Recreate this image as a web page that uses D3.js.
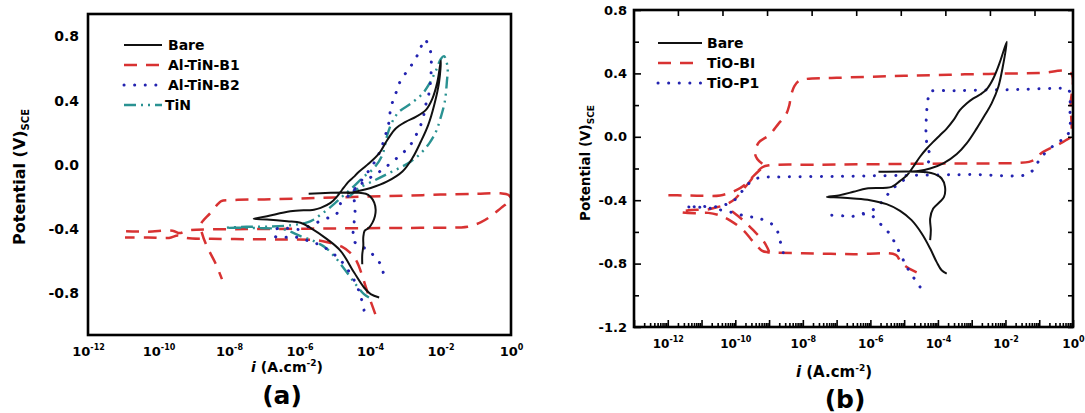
<!DOCTYPE html>
<html><head><meta charset="utf-8">
<script src="https://cdn.jsdelivr.net/npm/d3@7"></script>
<style>
body{margin:0;background:#fff}
svg{display:block}
text{font-family:"DejaVu Sans",sans-serif;font-weight:bold;fill:#000}
</style>
</head><body>
<svg id="c" width="1085" height="413"></svg>
<script>
// ---------- DATA (current as log10(i / A.cm^-2), potential in V vs SCE) ----------
// Panel (a)
const xTickExpA = [-12,-10,-8,-6,-4,-2,0];
const yTicksA = [0.8,0.4,0.0,-0.4,-0.8];
const legendA = ["Bare","Al-TiN-B1","Al-TiN-B2","TiN"];

const bareA = [
[-3.74,-0.826],[-3.98,-0.805],[-4.17,-0.764],[-4.45,-0.671],[-4.83,-0.537],[-5.21,-0.464],[-5.69,-0.392],[-5.97,-0.361],[-6.35,-0.351],[-6.92,-0.340],[-7.30,-0.336],
[-6.92,-0.320],[-6.26,-0.289],[-5.59,-0.279],[-5.40,-0.268],[-5.12,-0.237],[-4.93,-0.196],[-4.79,-0.155],[-4.60,-0.103],[-4.46,-0.075],[-4.36,-0.052],[-4.08,0.000],[-3.74,0.072],[-3.51,0.155],[-3.27,0.227],[-2.99,0.268],[-2.70,0.299],[-2.42,0.341],[-2.23,0.413],[-2.09,0.516],[-1.99,0.650],
[-2.04,0.516],[-2.18,0.372],[-2.35,0.248],[-2.56,0.144],[-2.80,0.041],[-3.08,-0.041],[-3.51,-0.103],[-3.98,-0.144],[-4.36,-0.165],[-4.65,-0.178],
null,
[-5.74,-0.180],[-4.12,-0.180],[-3.98,-0.200],[-3.88,-0.235],[-3.84,-0.279],[-3.86,-0.320],[-3.93,-0.360],[-4.03,-0.392],[-4.15,-0.410],[-4.19,-0.450],[-4.19,-0.506],[-4.22,-0.560],[-4.22,-0.619]
];
const alTiNB1 = [
[-3.85,-0.930],[-3.98,-0.850],[-4.12,-0.760],[-4.22,-0.690],[-4.38,-0.600],[-4.55,-0.550],[-4.80,-0.510],[-5.21,-0.482],[-5.60,-0.468],[-6.50,-0.465],[-7.50,-0.463],[-8.50,-0.461],[-9.20,-0.456],[-9.45,-0.440],[-9.70,-0.455],[-10.30,-0.452],[-10.95,-0.452],
null,
[-10.92,-0.414],[-10.30,-0.416],[-9.60,-0.410],[-9.40,-0.425],[-9.20,-0.410],[-8.50,-0.402],[-7.00,-0.400],[-5.00,-0.396],[-3.00,-0.393],[-1.50,-0.390],[-1.23,-0.386],[-0.85,-0.357],[-0.57,-0.320],[-0.28,-0.268],[-0.10,-0.237],[0.00,-0.212],[-0.08,-0.186],[-0.30,-0.177],[-1.00,-0.180],[-2.00,-0.185],[-3.00,-0.192],[-4.00,-0.197],[-5.00,-0.203],[-6.00,-0.210],[-7.00,-0.215],[-8.00,-0.220],[-8.22,-0.226],[-8.32,-0.245],[-8.53,-0.300],[-8.80,-0.371],[-8.76,-0.430],[-8.63,-0.506],[-8.39,-0.610],[-8.20,-0.712]
];
const alTiNB2 = [
[-4.17,-0.905],[-4.25,-0.830],[-4.40,-0.740],[-4.64,-0.650],[-4.90,-0.580],[-5.36,-0.506],[-5.73,-0.475],[-6.16,-0.448],[-6.59,-0.454],[-6.72,-0.440],[-6.72,-0.410],[-6.54,-0.392],[-6.20,-0.400],[-5.97,-0.402],[-5.73,-0.382],[-5.31,-0.340],[-5.07,-0.320],[-4.88,-0.289],[-4.83,-0.237],[-4.60,-0.190],[-4.41,-0.144],[-4.12,-0.062],[-3.89,0.010],[-3.70,0.093],[-3.56,0.186],[-3.46,0.268],[-3.41,0.355],[-3.27,0.444],[-3.13,0.526],[-2.86,0.609],[-2.61,0.702],[-2.45,0.780],
[-2.29,0.712],[-2.26,0.623],[-2.32,0.454],[-2.42,0.372],[-2.51,0.279],[-2.67,0.196],[-2.89,0.114],[-3.30,0.031],[-3.72,-0.041],[-4.08,-0.093],[-4.46,-0.165],[-4.42,-0.260],[-4.45,-0.360],[-4.45,-0.475],[-4.03,-0.536],[-3.70,-0.620],[-3.60,-0.700]
];
const tiN = [
[-4.03,-0.826],[-4.17,-0.805],[-4.41,-0.743],[-4.69,-0.660],[-4.98,-0.578],[-5.26,-0.516],[-5.59,-0.475],[-5.97,-0.444],[-6.45,-0.402],[-7.00,-0.395],[-7.60,-0.392],[-8.10,-0.392],
[-7.50,-0.386],[-6.80,-0.384],[-6.20,-0.375],[-5.80,-0.360],[-5.59,-0.340],[-5.40,-0.310],[-5.21,-0.279],[-5.00,-0.240],[-4.83,-0.206],[-4.65,-0.170],[-4.46,-0.134],[-4.17,-0.072],[-3.89,-0.021],[-3.65,0.062],[-3.51,0.186],[-3.37,0.268],[-3.18,0.330],[-2.84,0.382],[-2.51,0.444],[-2.29,0.516],[-2.13,0.588],[-1.99,0.660],[-1.90,0.677],
[-1.80,0.609],[-1.82,0.516],[-1.88,0.392],[-1.99,0.299],[-2.13,0.206],[-2.32,0.134],[-2.56,0.072],[-2.84,0.021],[-3.18,-0.021],[-3.56,-0.062],[-3.93,-0.103],[-4.31,-0.144],[-4.50,-0.180],[-4.60,-0.200]
];

// Panel (b)
const xTickExpB = [-12,-10,-8,-6,-4,-2,0];
const xMajorExpB = [-13,-12,-11,-10,-9,-8,-7,-6,-5,-4,-3,-2,-1,0];
const xTopExpB = [-11.70,-10.38,-9.06,-7.74,-6.42,-5.10,-3.78,-2.46,-1.14];
const yTicksB = [0.8,0.4,0.0,-0.4,-0.8,-1.2];
const yMinorB = [0.6,0.2,-0.2,-0.6,-1.0];
const legendB = ["Bare","TiO-BI","TiO-P1"];

const bareB = [
[-3.74,-0.863],[-3.89,-0.842],[-4.04,-0.789],[-4.23,-0.705],[-4.48,-0.610],[-4.78,-0.526],[-5.12,-0.467],[-5.52,-0.425],[-6.01,-0.400],[-6.50,-0.389],[-6.90,-0.383],[-7.29,-0.379],
[-6.90,-0.368],[-6.50,-0.347],[-6.11,-0.326],[-5.37,-0.316],[-5.12,-0.278],[-4.91,-0.242],[-4.73,-0.189],[-4.53,-0.126],[-4.33,-0.074],[-4.14,-0.032],[-3.94,0.010],[-3.74,0.052],[-3.54,0.105],[-3.35,0.168],[-3.15,0.210],[-2.95,0.242],[-2.75,0.267],[-2.56,0.299],[-2.36,0.368],[-2.16,0.474],[-1.96,0.600],
[-2.08,0.442],[-2.21,0.316],[-2.41,0.211],[-2.61,0.137],[-2.85,0.053],[-3.15,-0.042],[-3.44,-0.109],[-3.84,-0.168],[-4.23,-0.200],[-4.63,-0.217],[-4.83,-0.221],
null,
[-5.76,-0.221],[-4.33,-0.223],[-4.09,-0.236],[-3.89,-0.263],[-3.79,-0.316],[-3.82,-0.379],[-3.94,-0.410],[-4.14,-0.453],[-4.23,-0.516],[-4.21,-0.589],[-4.23,-0.652]
];
const tioBI = [
[-4.63,-0.855],[-4.90,-0.825],[-5.10,-0.790],[-5.25,-0.745],[-6.50,-0.741],[-8.00,-0.735],[-9.05,-0.728],[-9.20,-0.720],[-9.35,-0.690],[-9.52,-0.650],[-9.76,-0.590],[-10.16,-0.527],[-10.45,-0.497],[-10.80,-0.480],[-11.20,-0.482],[-11.64,-0.474],
[-11.30,-0.462],[-10.85,-0.459],[-10.55,-0.445],[-10.25,-0.425],[-10.00,-0.390],[-9.80,-0.340],[-9.60,-0.290],[-9.40,-0.235],[-9.20,-0.192],[-9.00,-0.180],[-7.50,-0.176],[-5.50,-0.172],[-3.50,-0.168],[-1.60,-0.165],[-1.30,-0.158],[-1.10,-0.140],[-0.95,-0.105],[-0.70,-0.075],[-0.40,-0.045],[-0.20,-0.020],[-0.07,0.000],[-0.07,0.200],[-0.07,0.404],[-1.00,0.402],[-2.50,0.397],[-4.00,0.390],[-5.50,0.382],[-7.00,0.372],[-7.90,0.365],[-8.10,0.355],[-8.25,0.320],[-8.35,0.260],[-8.40,0.200],[-8.50,0.140],[-8.73,0.080],[-9.00,0.010],[-9.30,-0.035],[-9.42,-0.100],[-9.35,-0.140],[-9.20,-0.170],
null,
[-9.25,-0.205],[-9.45,-0.245],[-9.70,-0.300],[-10.00,-0.340],[-10.45,-0.370],[-11.00,-0.372],[-11.50,-0.370],[-12.03,-0.368],
null,
[-10.10,-0.470],[-9.75,-0.530],[-9.42,-0.600],[-9.17,-0.657],[-9.05,-0.700],[-9.00,-0.725]
];
const tioP1 = [
[-8.58,-0.731],[-8.68,-0.653],[-8.82,-0.569],[-9.27,-0.516],[-9.70,-0.500],[-10.16,-0.474],[-10.60,-0.455],[-11.00,-0.445],[-11.45,-0.442],
[-11.00,-0.440],[-10.50,-0.440],[-10.20,-0.420],[-9.97,-0.390],[-9.75,-0.330],[-9.55,-0.285],[-9.32,-0.260],[-8.50,-0.253],[-7.00,-0.250],[-5.50,-0.245],[-4.43,-0.242],[-3.00,-0.238],[-1.32,-0.234],[-1.10,-0.179],[-0.93,-0.126],[-0.68,-0.074],[-0.43,-0.032],[-0.19,0.000],[-0.09,0.063],[-0.09,0.168],[-0.09,0.253],[-0.14,0.299],[-0.58,0.305],[-1.57,0.299],[-2.56,0.295],[-3.54,0.290],[-4.23,0.284],[-4.28,0.253],[-4.33,0.168],[-4.35,0.084],[-4.35,0.000],[-4.31,-0.063],[-4.23,-0.126],[-4.35,-0.189],[-4.43,-0.232],
null,
[-4.53,-0.947],[-4.83,-0.853],[-4.95,-0.810],[-5.07,-0.758],[-5.22,-0.695],[-5.37,-0.631],[-5.52,-0.589],[-5.77,-0.537],[-6.01,-0.490],[-6.30,-0.490],[-6.60,-0.505],[-6.85,-0.498],[-7.15,-0.495],
null,
[-6.21,-0.484],[-5.86,-0.453],[-5.62,-0.400],[-5.42,-0.347],[-5.22,-0.305],[-5.02,-0.274],[-4.83,-0.236]
];

// ---------- STYLES ----------
const ST = {
  black:{stroke:"#111111", w:2.0, dash:null, cap:"butt"},
  red:  {stroke:"#d83232", w:2.5, dash:"13,9", cap:"butt"},
  blue: {stroke:"#2323b0", w:3.0, dash:"0.1,10.5", cap:"round"},
  teal: {stroke:"#2a9292", w:2.4, dash:"12,5,2,5,2,5", cap:"butt"}
};
const p10 = e => Math.pow(10, e);
const svg = d3.select("#c");

function drawSeries(g, data, x, y, st, clipId) {
  const line = d3.line().defined(d => d !== null)
    .x(d => x(p10(d[0]))).y(d => y(d[1]))
    .curve(d3.curveCatmullRom.alpha(0.5));
  g.append("path").attr("d", line(data)).attr("fill","none")
    .attr("stroke", st.stroke).attr("stroke-width", st.w)
    .attr("stroke-dasharray", st.dash).attr("stroke-linecap", st.cap)
    .attr("stroke-linejoin","round").attr("clip-path", `url(#${clipId})`);
}
function legend(g, items, styles, x1, x2, xt, ys, fs) {
  items.forEach((name, i) => {
    const st = styles[i];
    g.append("line").attr("x1", x1).attr("x2", x2).attr("y1", ys[i]).attr("y2", ys[i])
      .attr("stroke", st.stroke).attr("stroke-width", st.w)
      .attr("stroke-dasharray", st.dash).attr("stroke-linecap", st.cap);
    g.append("text").attr("x", xt[i]).attr("y", ys[i] + 5).style("font-size", fs + "px").text(name);
  });
}
function expLabel(sel, e, base, sup, rise) {
  const t = sel.append("text").attr("text-anchor","middle").style("font-size", base + "px");
  t.append("tspan").text("10");
  t.append("tspan").attr("dy", -rise).style("font-size", sup + "px").text(String(e));
  return t;
}

// ---------- PANEL (a) ----------
const xA = d3.scaleLog().domain([1e-12, 1]).range([88, 511]);
const yA = d3.scaleLinear().domain([-1.06, 0.94]).range([335, 14]);
const gA = svg.append("g");
gA.append("clipPath").attr("id","clipA").append("rect")
  .attr("x", 88).attr("y", 14).attr("width", 423).attr("height", 321);

drawSeries(gA, alTiNB1, xA, yA, ST.red, "clipA");
drawSeries(gA, tiN, xA, yA, ST.teal, "clipA");
drawSeries(gA, alTiNB2, xA, yA, ST.blue, "clipA");
drawSeries(gA, bareA, xA, yA, ST.black, "clipA");

gA.append("rect").attr("x", 88).attr("y", 14).attr("width", 423).attr("height", 321)
  .attr("fill","none").attr("stroke","#000").attr("stroke-width", 2.6);

const axA = gA.append("g").attr("transform","translate(0,335)")
  .call(d3.axisBottom(xA).tickValues(xTickExpA.map(p10)).tickSize(0).tickFormat(""));
axA.select(".domain").remove();
axA.selectAll(".tick").each(function(d) {
  expLabel(d3.select(this), Math.round(Math.log10(d)), 13, 8, 6.5).attr("y", 21);
});
const ayA = gA.append("g").attr("transform","translate(88,0)")
  .call(d3.axisLeft(yA).tickValues(yTicksA).tickSize(0).tickPadding(9).tickFormat(d => d.toFixed(1)));
ayA.select(".domain").remove();
ayA.selectAll("text").style("font-size","14px");

legend(gA, legendA, [ST.black, ST.red, ST.blue, ST.teal], 124, 162, [168,168,168,165], [45,65,85,105], 14);

const tA = gA.append("text").attr("text-anchor","middle").attr("x", 287).attr("y", 372).style("font-size","14px");
tA.append("tspan").style("font-style","italic").text("i");
tA.append("tspan").text(" (A.cm");
tA.append("tspan").attr("dy",-6).style("font-size","9px").text("-2");
tA.append("tspan").attr("dy",6).text(")");

const yTitA = gA.append("text").attr("text-anchor","middle")
  .attr("transform","translate(25,177) rotate(-90)").style("font-size","16px");
yTitA.append("tspan").text("Potential (V)");
yTitA.append("tspan").attr("dy",4).style("font-size","10px").text("SCE");

gA.append("text").attr("text-anchor","middle").attr("x", 282).attr("y", 404)
  .style("font-size","25px").text("(a)");

// ---------- PANEL (b) ----------
const xB = d3.scaleLog().domain([1e-13, 1]).range([634, 1073]);
const yB = d3.scaleLinear().domain([-1.2, 0.8]).range([327, 10]);
const gB = svg.append("g");
gB.append("clipPath").attr("id","clipB").append("rect")
  .attr("x", 634).attr("y", 10).attr("width", 439).attr("height", 317);

drawSeries(gB, tioBI, xB, yB, ST.red, "clipB");
drawSeries(gB, tioP1, xB, yB, ST.blue, "clipB");
drawSeries(gB, bareB, xB, yB, ST.black, "clipB");

function tickAxis(g) { g.select(".domain").remove(); g.selectAll("line").attr("stroke","#000").attr("stroke-width",1.6); return g; }
// bottom major + minor (inward)
tickAxis(gB.append("g").attr("transform","translate(0,327)")
  .call(d3.axisBottom(xB).tickValues(xMajorExpB.map(p10)).tickSize(-7).tickFormat("")));
const minorB = xB.ticks(20).filter(v => Math.abs(Math.log10(v) - Math.round(Math.log10(v))) > 1e-6);
tickAxis(gB.append("g").attr("transform","translate(0,327)")
  .call(d3.axisBottom(xB).tickValues(minorB).tickSize(-4).tickFormat("")));
// top
tickAxis(gB.append("g").attr("transform","translate(0,10)")
  .call(d3.axisTop(xB).tickValues(xTopExpB.map(p10)).tickSize(-6).tickFormat("")));
// left
const ayB = tickAxis(gB.append("g").attr("transform","translate(634,0)")
  .call(d3.axisLeft(yB).tickValues(yTicksB).tickSize(-7).tickPadding(7).tickFormat(d => d.toFixed(1))));
ayB.selectAll("text").style("font-size","13px");
tickAxis(gB.append("g").attr("transform","translate(634,0)")
  .call(d3.axisLeft(yB).tickValues(yMinorB).tickSize(-5).tickFormat("")));
// right
tickAxis(gB.append("g").attr("transform","translate(1073,0)")
  .call(d3.axisRight(yB).tickValues(yTicksB.concat(yMinorB)).tickSize(-5).tickFormat("")));

gB.append("rect").attr("x", 634).attr("y", 10).attr("width", 439).attr("height", 317)
  .attr("fill","none").attr("stroke","#000").attr("stroke-width", 2.6);

const lbB = gB.append("g").attr("transform","translate(0,327)")
  .call(d3.axisBottom(xB).tickValues(xTickExpB.map(p10)).tickSize(0).tickFormat(""));
lbB.select(".domain").remove();
lbB.selectAll(".tick").each(function(d) {
  expLabel(d3.select(this), Math.round(Math.log10(d)), 12, 8, 6).attr("y", 21);
});

legend(gB, legendB, [ST.black, ST.red, ST.blue], 658, 702, [707,707,707], [43,63,83], 14);

const tB = gB.append("text").attr("text-anchor","middle").attr("x", 834).attr("y", 377).style("font-size","15px");
tB.append("tspan").style("font-style","italic").text("i");
tB.append("tspan").text(" (A.cm");
tB.append("tspan").attr("dy",-6).style("font-size","9px").text("-2");
tB.append("tspan").attr("dy",6).text(")");

const yTitB = gB.append("text").attr("text-anchor","middle")
  .attr("transform","translate(590,163) rotate(-90)").style("font-size","13.5px");
yTitB.append("tspan").text("Potential (V)");
yTitB.append("tspan").attr("dy",4).style("font-size","9px").text("SCE");

gB.append("text").attr("text-anchor","middle").attr("x", 845).attr("y", 408)
  .style("font-size","25px").text("(b)");
</script>
</body></html>
